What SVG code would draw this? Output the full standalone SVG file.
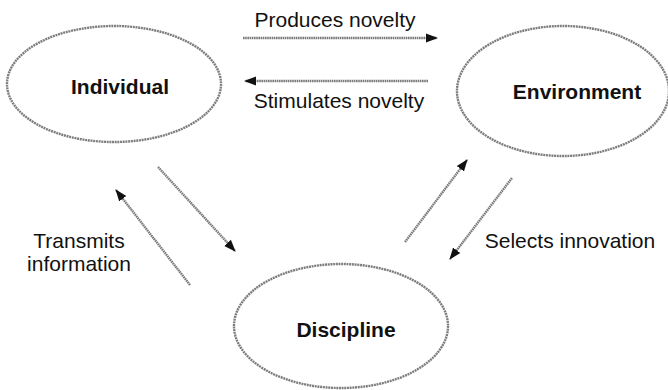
<svg xmlns="http://www.w3.org/2000/svg" width="668" height="390" viewBox="0 0 668 390">
  <defs>
    <style>
      .node { fill: #ffffff; stroke: #7d7d7d; stroke-width: 2.4; stroke-dasharray: 2 0.7; }
      .title { font-family: "Liberation Sans", Arial, sans-serif; font-size: 21px; font-weight: bold; fill: #111; text-anchor: middle; }
      .label { font-family: "Liberation Sans", Arial, sans-serif; font-size: 21px; fill: #111; text-anchor: middle; }
      .edge { fill: none; stroke: #7a7a7a; stroke-width: 2.4; stroke-dasharray: 1.6 0.6; marker-end: url(#head); }
    </style>
    <marker id="head" markerUnits="userSpaceOnUse" markerWidth="13" markerHeight="11" refX="11" refY="5.5" orient="auto">
      <path d="M0,1 L12,5.5 L0,10 Z" fill="#111"/>
    </marker>
  </defs>
  <rect width="668" height="390" fill="#ffffff"/>

  <g id="connectors">
    <line class="edge" x1="243" y1="38" x2="437" y2="38"/>
    <line class="edge" x1="428" y1="81" x2="245" y2="81"/>
    <line class="edge" x1="158" y1="167" x2="235" y2="251"/>
    <line class="edge" x1="190" y1="285" x2="116" y2="190"/>
    <line class="edge" x1="405" y1="242" x2="467" y2="160"/>
    <line class="edge" x1="512" y1="178" x2="450" y2="259"/>
  </g>

  <g id="labels">
    <text class="label" x="335" y="27">Produces novelty</text>
    <text class="label" x="339" y="108">Stimulates novelty</text>
    <text class="label" x="79" y="248">Transmits</text>
    <text class="label" x="79" y="271">information</text>
    <text class="label" x="570" y="248">Selects innovation</text>
  </g>

  <g id="individual">
    <ellipse class="node" cx="114" cy="84" rx="107" ry="58"/>
    <text class="title" x="120" y="94">Individual</text>
  </g>

  <g id="environment">
    <ellipse class="node" cx="563" cy="91" rx="106" ry="65"/>
    <text class="title" x="577" y="99">Environment</text>
  </g>

  <g id="discipline">
    <ellipse class="node" cx="341" cy="326" rx="107" ry="62"/>
    <text class="title" x="346" y="337">Discipline</text>
  </g>
</svg>
